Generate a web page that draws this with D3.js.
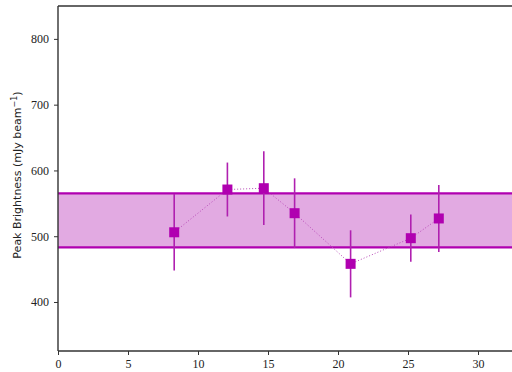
<!DOCTYPE html>
<html><head><meta charset="utf-8">
<script src="https://cdn.jsdelivr.net/npm/d3@7"></script>
<style>body{margin:0;background:#fff}svg{display:block}</style>
</head><body>
<script>
const days = [8.3, 12.1, 14.7, 16.9, 20.9, 25.2, 27.2];
const peak = [506, 571, 573, 535, 458, 497, 527];
const err  = [58, 41, 56, 53, 51, 36, 51];
const bandLow = 483, bandHigh = 565;
const xTicks = [0, 5, 10, 15, 20, 25, 30];
const yTicks = [400, 500, 600, 700, 800];

(function () {
const W = 512, H = 372;
const svg = d3.select("body").append("svg").attr("width", W).attr("height", H);
const mL = 58, mT = 6, mB = 351;
const x = d3.scaleLinear().domain([0, 36]).range([mL, mL + 36 * 14]);
const y = d3.scaleLinear().domain([325.5, 850]).range([mB, mT]);
const mag = "#b000b0";

// band
svg.append("rect").attr("x", mL).attr("width", W - mL + 10)
  .attr("y", y(bandHigh)).attr("height", y(bandLow) - y(bandHigh))
  .attr("fill", "#e2aae2");
[bandLow, bandHigh].forEach(v => svg.append("line")
  .attr("x1", mL).attr("x2", W + 10).attr("y1", y(v)).attr("y2", y(v))
  .attr("stroke", mag).attr("stroke-width", 2.2));

// dotted connecting line
svg.append("path").datum(days.map((d, i) => [d, peak[i]]))
  .attr("d", d3.line().x(d => x(d[0])).y(d => y(d[1])))
  .attr("fill", "none").attr("stroke", "#b84ab8").attr("stroke-width", 1)
  .attr("stroke-dasharray", "1,2");

// error bars
svg.selectAll(".eb").data(days).enter().append("line")
  .attr("x1", d => x(d)).attr("x2", d => x(d))
  .attr("y1", (d, i) => y(peak[i] - err[i])).attr("y2", (d, i) => y(peak[i] + err[i]))
  .attr("stroke", "#b020b0").attr("stroke-width", 1.6);

// markers
const ms = 10;
svg.selectAll(".mk").data(days).enter().append("rect")
  .attr("x", d => x(d) - ms / 2).attr("y", (d, i) => y(peak[i]) - ms / 2)
  .attr("width", ms).attr("height", ms).attr("fill", "#b000b0");

// axes
const fontSerif = "'Liberation Serif','DejaVu Serif',serif";
const xAxis = svg.append("g").attr("transform", `translate(0,${mB})`)
  .call(d3.axisBottom(x).tickValues(xTicks).tickSize(4).tickPadding(4).tickFormat(d3.format("d")));
const yAxis = svg.append("g").attr("transform", `translate(${mL},0)`)
  .call(d3.axisLeft(y).tickValues(yTicks).tickSize(4).tickPadding(5).tickFormat(d3.format("d")));
[xAxis, yAxis].forEach(g => {
  g.select(".domain").attr("stroke", "#333").attr("stroke-width", 1.4);
  g.selectAll(".tick line").attr("stroke", "#333").attr("stroke-width", 1);
  g.selectAll("text").attr("font-family", fontSerif).attr("font-size", 12).attr("fill", "#222");
});
xAxis.select(".domain").attr("d", `M${mL},0H${W + 10}`);
yAxis.select(".domain").attr("d", `M0,${mB}V${mT}`);
svg.append("line").attr("x1", mL).attr("x2", W + 10).attr("y1", mT).attr("y2", mT)
  .attr("stroke", "#333").attr("stroke-width", 1.4);

// y label
const lbl = svg.append("text").attr("transform", `translate(21,${(85 + 265) / 2}) rotate(-90)`)
  .attr("text-anchor", "middle").attr("font-family", "'DejaVu Sans',sans-serif")
  .attr("font-size", 11).attr("fill", "#222");
lbl.append("tspan").text("Peak Brightness (mJy beam");
lbl.append("tspan").attr("dy", -4).attr("font-size", 8).text("−1");
lbl.append("tspan").attr("dy", 4).text(")");
})();
</script>
</body></html>
